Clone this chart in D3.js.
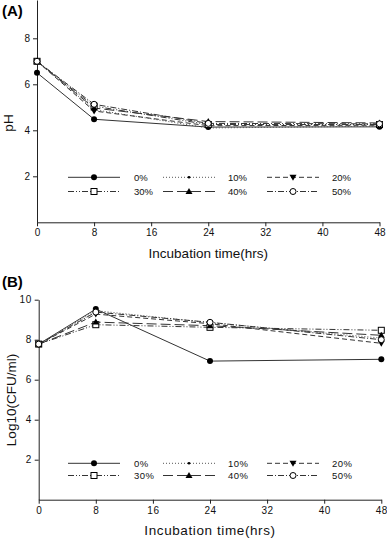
<!DOCTYPE html>
<html><head><meta charset="utf-8">
<script src="https://cdn.jsdelivr.net/npm/d3@7"></script>
<style>body{margin:0;background:#fff}svg{display:block}text{font-family:"Liberation Sans",Arial,sans-serif}</style>
</head><body>
<script>
const times = [0, 8, 24, 48];
const xTicks = [0, 8, 16, 24, 32, 40, 48];
const seriesNames = ["0%", "10%", "20%", "30%", "40%", "50%"];
const pH0 = [6.5, 4.48, 4.14, 4.15];
const pH10 = [7.0, 4.9, 4.1, 4.18];
const pH20 = [7.0, 4.84, 4.2, 4.22];
const pH30 = [7.0, 5.05, 4.25, 4.25];
const pH40 = [7.0, 4.97, 4.38, 4.32];
const pH50 = [7.0, 5.13, 4.3, 4.28];
const cfu0 = [7.78, 9.53, 6.93, 7.02];
const cfu10 = [7.78, 9.45, 8.85, 8.08];
const cfu20 = [7.78, 9.28, 8.8, 7.82];
const cfu30 = [7.78, 8.75, 8.62, 8.47];
const cfu40 = [7.78, 8.88, 8.7, 8.22];
const cfu50 = [7.78, 9.38, 8.87, 8.0];
const pHTicks = [2, 4, 6, 8];
const cfuTicks = [2, 4, 6, 8, 10];

const styles = [
  {dash: null, marker: "circleF"},
  {dash: "1,2", marker: "dot"},
  {dash: "5,3", marker: "triDown"},
  {dash: "6,2,1,2,1,2", marker: "squareO"},
  {dash: "10,4", marker: "triUp"},
  {dash: "6,2,1,2", marker: "circleO"}
];

const W = 387, H = 538;
const svg = d3.select("body").append("svg").attr("width", W).attr("height", H);

function drawMarker(g, type, x, y) {
  const s = 3;
  if (type === "circleF") g.append("circle").attr("cx", x).attr("cy", y).attr("r", s).attr("fill", "#000");
  else if (type === "circleO") g.append("circle").attr("cx", x).attr("cy", y).attr("r", s).attr("fill", "#fff").attr("stroke", "#000").attr("stroke-width", 1);
  else if (type === "dot") g.append("circle").attr("cx", x).attr("cy", y).attr("r", 1.3).attr("fill", "#000");
  else if (type === "squareO") g.append("rect").attr("x", x - s).attr("y", y - s).attr("width", 2 * s).attr("height", 2 * s).attr("fill", "#fff").attr("stroke", "#000").attr("stroke-width", 1);
  else if (type === "triDown") g.append("path").attr("d", `M${x - 3.5},${y - 2.5}L${x + 3.5},${y - 2.5}L${x},${y + 3.5}Z`).attr("fill", "#000");
  else if (type === "triUp") g.append("path").attr("d", `M${x - 3.5},${y + 2.5}L${x + 3.5},${y + 2.5}L${x},${y - 3.5}Z`).attr("fill", "#000");
}

function panel(opt) {
  const x = d3.scaleLinear().domain([0, 48]).range([opt.x0, opt.x1]);
  const y = d3.scaleLinear().domain(opt.yDomain).range([opt.yBottom, opt.yTop]);
  const g = svg.append("g");
  // axes
  const xa = g.append("g").attr("transform", `translate(0,${opt.yBottom})`)
    .call(d3.axisBottom(x).tickValues(xTicks).tickSize(4).tickPadding(3).tickSizeOuter(0));
  const ya = g.append("g").attr("transform", `translate(${opt.x0},0)`)
    .call(d3.axisLeft(y).tickValues(opt.yTicks).tickSize(4).tickPadding(3).tickSizeOuter(0));
  [xa, ya].forEach(a => {
    a.select(".domain").attr("stroke", "#222");
    a.selectAll(".tick line").attr("stroke", "#222");
    a.selectAll("text").attr("font-size", 10).attr("fill", "#111").style("letter-spacing", opt.ls + "px");
  });
  // lines
  const line = d3.line().x((d, i) => x(times[i])).y(d => y(d));
  opt.data.forEach((vals, k) => {
    g.append("path").attr("d", line(vals)).attr("fill", "none")
      .attr("stroke", k === 1 ? "#555" : "#333").attr("stroke-width", 1)
      .attr("stroke-dasharray", styles[k].dash);
  });
  opt.data.forEach((vals, k) => {
    vals.forEach((v, i) => drawMarker(g, styles[k].marker, x(times[i]), y(v)));
  });
  // legend
  const colX = [68, 163, 267], labX = [134, 228, 332];
  seriesNames.forEach((name, k) => {
    const c = k % 3, r = Math.floor(k / 3);
    const ly = opt.legY[r];
    g.append("line").attr("x1", colX[c]).attr("x2", colX[c] + 52).attr("y1", ly).attr("y2", ly)
      .attr("stroke", k === 1 ? "#555" : "#333").attr("stroke-width", 1).attr("stroke-dasharray", styles[k].dash);
    drawMarker(g, styles[k].marker, colX[c] + 26, ly);
    g.append("text").attr("x", labX[c]).attr("y", ly + 3.5).attr("font-size", 9.5)
      .style("letter-spacing", opt.ls + "px").attr("fill", "#111").text(name);
  });
  // titles
  g.append("text").attr("x", (opt.x0 + opt.x1) / 2).attr("y", opt.xTitleY).attr("text-anchor", "middle")
    .attr("font-size", 13.5).style("letter-spacing", opt.ls * 1.2 + "px").attr("fill", "#111").text("Incubation time(hrs)");
  g.append("text").attr("transform", `translate(${opt.yTitleX},${opt.yTitleC}) rotate(-90)`).attr("text-anchor", "middle")
    .attr("font-size", 13.5).attr("fill", "#111").text(opt.yTitle);
  g.append("text").attr("x", 2).attr("y", opt.tagY).attr("font-size", 15).attr("font-weight", "bold").attr("fill", "#000").text(opt.tag);
}

panel({
  x0: 37, x1: 379.5, yTop: 0, yBottom: 222.3, yDomain: [0, 222.3 / 23], yTicks: pHTicks,
  data: [pH0, pH10, pH20, pH30, pH40, pH50], legY: [177.3, 191.5], ls: 0,
  xTitleY: 258, yTitleX: 13, yTitleC: 123, yTitle: "pH", tag: "(A)", tagY: 16
});
panel({
  x0: 38.7, x1: 381.3, yTop: 299.7, yBottom: 499.7, yDomain: [0, 10], yTicks: cfuTicks,
  data: [cfu0, cfu10, cfu20, cfu30, cfu40, cfu50], legY: [463.3, 475.5], ls: 0.5,
  xTitleY: 535, yTitleX: 16, yTitleC: 400, yTitle: "Log10(CFU/ml)", tag: "(B)", tagY: 287
});
</script>
</body></html>
